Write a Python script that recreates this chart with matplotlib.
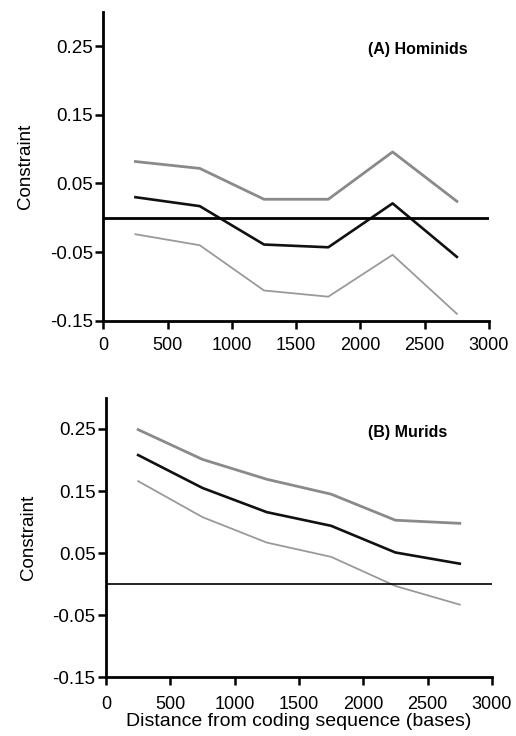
import matplotlib
matplotlib.use("Agg")
import matplotlib.pyplot as plt

plt.rcParams['font.family'] = ['Liberation Sans', 'DejaVu Sans']

distance = [250, 750, 1250, 1750, 2250, 2750]

hom_upper = [0.082, 0.072, 0.027, 0.027, 0.096, 0.024]
hom_mean = [0.030, 0.017, -0.039, -0.043, 0.021, -0.057]
hom_lower = [-0.024, -0.040, -0.106, -0.115, -0.054, -0.140]

mur_upper = [0.249, 0.201, 0.169, 0.145, 0.103, 0.098]
mur_mean = [0.208, 0.155, 0.116, 0.094, 0.051, 0.033]
mur_lower = [0.166, 0.108, 0.067, 0.044, -0.003, -0.033]

yticks = [-0.15, -0.05, 0.05, 0.15, 0.25]
ytick_labels = ["-0.15", "-0.05", "0.05", "0.15", "0.25"]
xticks = [0, 500, 1000, 1500, 2000, 2500, 3000]
xtick_labels = ["0", "500", "1000", "1500", "2000", "2500", "3000"]

fig = plt.figure(figsize=(5.16, 7.36), dpi=100)
ax1 = fig.add_axes([0.2002, 0.5643, 0.7475, 0.4194])
ax2 = fig.add_axes([0.2054, 0.0798, 0.748, 0.3795])

panels = [
    (ax1, hom_upper, hom_mean, hom_lower, "(A) Hominids", 2057, 0.246, 2.0, False, 5.5),
    (ax2, mur_upper, mur_mean, mur_lower, "(B) Murids", 2036, 0.245, 1.2, True, 7.5),
]

for ax, up, mn, lo, title, tx, ty, zlw, xl, xpad in panels:
    ax.plot(distance, up, color='#8a8a8a', lw=2.0)
    ax.plot(distance, lo, color='#9a9a9a', lw=1.3)
    ax.plot(distance, mn, color='#111111', lw=1.9)
    ax.axhline(0, color='black', lw=zlw)
    ax.set_xlim(0, 3000)
    ax.set_ylim(-0.15, 0.30)
    ax.set_yticks(yticks)
    ax.set_yticklabels(ytick_labels)
    ax.set_xticks(xticks)
    ax.set_xticklabels(xtick_labels)
    for s in ['top', 'right']:
        ax.spines[s].set_visible(False)
    for s in ['left', 'bottom']:
        ax.spines[s].set_linewidth(2.0)
    ax.tick_params(direction='out', length=6, width=1.8)
    ax.tick_params(axis='y', labelsize=13.5, pad=1.5)
    ax.tick_params(axis='x', labelsize=13, pad=xpad)
    ax.set_ylabel("Constraint", fontsize=13.5, labelpad=11)
    ax.text(tx, ty, title, fontsize=11.5, fontweight='bold', va='center', ha='left')
    if xl:
        ax.set_xlabel("Distance from coding sequence (bases)", fontsize=14, labelpad=0)

fig.savefig("out.png", dpi=100)
